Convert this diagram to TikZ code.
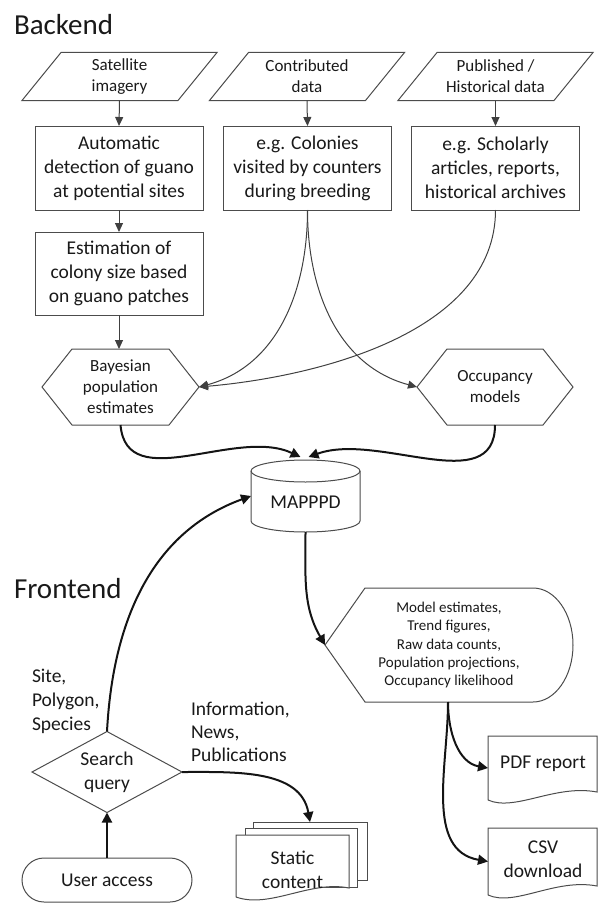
\documentclass[tikz,border=0pt]{standalone}
\usepackage{fontspec}
\setmainfont{Carlito}
\usetikzlibrary{arrows.meta,calc}
\begin{document}
\begin{tikzpicture}[x=1pt,y=-1pt,
  every node/.style={inner sep=0pt, outer sep=0pt, text=black!90, align=center},
  ln/.style={draw=black!70, line width=1pt},
  thinarr/.style={draw=black!75, line width=1pt, -{Triangle[length=9pt,width=8pt]}},
  thickarr/.style={draw=black!92, line width=2pt, -{Triangle[length=10pt,width=10pt]}},
  boxtxt/.style={font=\fontsize{19.5}{24}\selectfont},
  smtxt/.style={font=\fontsize{17}{21}\selectfont},
  tinytxt/.style={font=\fontsize{15}{18.3}\selectfont},
  titletxt/.style={font=\fontsize{29}{35}\selectfont},
  procbox/.style={ln, boxtxt, minimum width=168pt, minimum height=84pt},
  paranode/.style={smtxt, minimum width=195pt, minimum height=48pt},
  hexnode/.style={smtxt, minimum width=157pt, minimum height=76pt},
  docnode/.style={minimum width=109pt},
  sheet/.style={ln, fill=white}
]
\useasboundingbox (0,0) rectangle (600,907);

% titles
\node[titletxt, anchor=west] (tback) at (14,25) {Backend};
\node[titletxt, anchor=west] (tfront) at (14,589) {Frontend};

% input parallelograms
\node[paranode] (p1) at (119.5,76.5) {Satellite\\imagery};
\node[paranode] (p2) at (307,76.5) {Contributed\\data};
\node[paranode] (p3) at (495.5,76.5) {Published /\\Historical data};
\foreach \p in {p1,p2,p3}{
  \draw[ln] ($(\p.north west)+(39,0)$) -- (\p.north east) -- ($(\p.south east)+(-39,0)$) -- (\p.south west) -- cycle;
}

% process boxes
\node[procbox, draw] (a1) at (119,168) {Automatic\\detection of guano\\at potential sites};
\node[procbox, draw] (a2) at (307.5,168) {e.g. Colonies\\visited by counters\\during breeding};
\node[procbox, draw] (a3) at (495.5,168) {e.g. Scholarly\\articles, reports,\\historical archives};
\node[procbox, draw, minimum height=83pt] (a4) at (119,273.5) {Estimation of\\colony size based\\on guano patches};

% hexagons
\node[hexnode] (bay) at (120.5,387) {Bayesian\\population\\estimates};
\node[hexnode, minimum width=156pt] (occ) at (495,387) {Occupancy\\models};
\foreach \h in {bay,occ}{
  \draw[ln] (\h.west) -- ($(\h.north west)+(30,0)$) -- ($(\h.north east)+(-30,0)$) -- (\h.east) -- ($(\h.south east)+(-30,0)$) -- ($(\h.south west)+(30,0)$) -- cycle;
}

% database cylinder
\node[minimum width=109pt, minimum height=72pt] (db) at (305.5,496) {};
\draw[ln, fill=white] (251,471) -- (251,521)
  arc[start angle=180, end angle=360, x radius=54.5pt, y radius=11pt] -- (360,471)
  arc[start angle=0, end angle=180, x radius=54.5pt, y radius=11pt];
\draw[ln] (251,471) arc[start angle=180, end angle=360, x radius=54.5pt, y radius=11pt];
\node[boxtxt] (dbt) at (305.5,502) {MAPPPD};

% display shape
\node[tinytxt, minimum width=248pt, minimum height=114pt] (disp) at (449,645)
  {Model estimates,\\Trend figures,\\Raw data counts,\\Population projections,\\Occupancy likelihood};
\draw[ln] (disp.west) -- (365,588) -- (533,588)
  arc[start angle=90, end angle=-90, x radius=40pt, y radius=57pt] -- (365,702) -- cycle;

% output documents
\node[docnode, minimum height=64pt] (pdf) at (542.5,768) {};
\draw[ln] (pdf.south west) -- (pdf.north west) -- (pdf.north east) -- (597,792)
  .. controls (555,784) and (515,812) .. (pdf.south west);
\node[boxtxt] (pdft) at (543,764) {PDF report};
\node[docnode, minimum height=67pt] (csv) at (542.5,861.5) {};
\draw[ln] (csv.south west) -- (csv.north west) -- (csv.north east) -- (597,886)
  .. controls (555,878) and (515,907) .. (csv.south west);
\node[boxtxt] (csvt) at (543,859) {CSV\\download};

% static content stack
\node[sheet, draw, minimum width=114pt, minimum height=58pt] (sb) at (310,851) {};
\node[sheet, draw, minimum width=112pt, minimum height=59pt] (sm) at (301,857.5) {};
\node[minimum width=113pt, minimum height=62pt] (sf) at (292.5,866) {};
\draw[sheet] (sf.south west) -- (sf.north west) -- (sf.north east) -- (349,888)
  .. controls (310,880) and (270,909) .. (sf.south west);
\node[boxtxt] (sft) at (292.5,870) {Static\\content};

% search and user access
\node[boxtxt, minimum width=150pt, minimum height=81pt] (q) at (107,772) {Search\\query};
\draw[ln] (q.north) -- (q.east) -- (q.south) -- (q.west) -- cycle;
\node[ln, draw, boxtxt, rounded corners=22pt, minimum width=170pt, minimum height=44pt] (ua) at (107,880) {User access};

% labels
\node[boxtxt, anchor=west, align=left] (lsite) at (32,701) {Site,\\Polygon,\\Species};
\node[font=\fontsize{19.5}{23}\selectfont, anchor=west, align=left] (linfo) at (191,732) {Information,\\News,\\Publications};

% thin connectors
\draw[thinarr] (p1.south) -- (a1.north);
\draw[thinarr] (p2.south) -- (a2.north);
\draw[thinarr] (p3.south) -- (a3.north);
\draw[thinarr] (a1.south) -- (a4.north);
\draw[thinarr] (a4.south) -- (a4.south |- bay.north);
\draw[thinarr] (a2.south) to[out=-90, in=15] (bay.east);
\draw[thinarr] (a2.south) to[out=-90, in=165] (occ.west);
\draw[thinarr] (a3.south) to[out=-90, in=5, looseness=0.9] (bay.east);

% thick connectors
\draw[thickarr] (bay.south) to[out=-85, in=155] ([xshift=-5pt,yshift=3pt]db.north);
\draw[thickarr] (occ.south) to[out=-90, in=20] ([xshift=3pt,yshift=3pt]db.north);
\draw[thickarr] (q.north) to[out=87, in=200] (db.west);
\draw[thickarr] (db.south) to[out=-90, in=120] (disp.west);
\draw[thickarr] ([xshift=-1pt]disp.south) to[out=-90, in=170] (pdf.west);
\draw[thickarr] ([xshift=-1pt]disp.south) to[out=-90, in=170] (csv.west);
\draw[thickarr] (q.east) to[out=0, in=100] (sb.north);
\draw[thickarr] (ua.north) -- (q.south);
\end{tikzpicture}
\end{document}
